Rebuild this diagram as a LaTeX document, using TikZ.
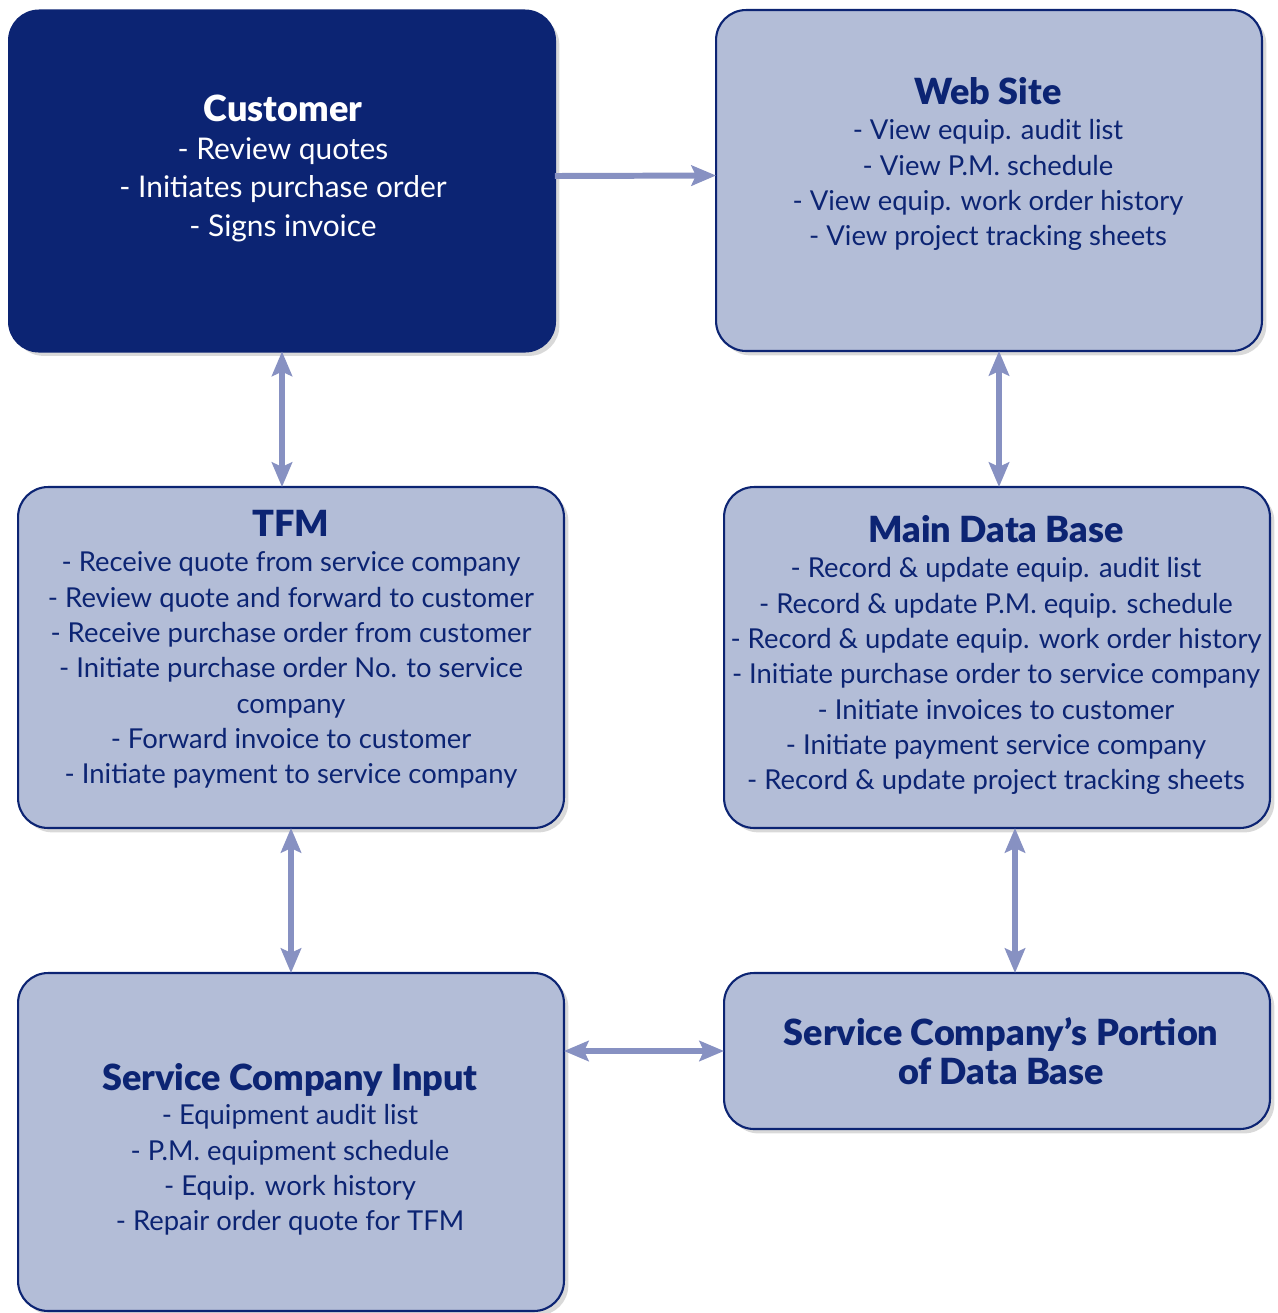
\documentclass[tikz,border=0pt]{standalone}
\usepackage{fontspec}
\setmainfont{Lato}
\newfontfamily\headfont{Lato Black}
\usetikzlibrary{arrows.meta}
\usetikzlibrary{shadows}
\usetikzlibrary{positioning}
\definecolor{navy}{HTML}{0C2473}
\definecolor{pale}{HTML}{B3BDD7}
\definecolor{linkblue}{HTML}{8791C2}

\begin{document}
\begin{tikzpicture}[x=0.02cm, y=-0.02cm,
    box/.style={draw=navy, line width=1.2pt, fill=pale, rounded corners=0.6cm,
      inner sep=0pt, outer sep=0pt, minimum width=10.92cm, minimum height=6.82cm,
      drop shadow={shadow xshift=2.5pt, shadow yshift=-2.5pt, opacity=0.3}},
    boxtext/.style={anchor=north, align=center, inner sep=0pt, text=navy,
      font=\fontsize{15.6}{20.1}\selectfont},
    head/.style={font=\headfont\fontsize{20.5}{22.2}\selectfont},
    link/.style={draw=linkblue, line width=3.4pt,
      {Stealth[length=14pt,width=11.5pt,inset=2.5pt]}-{Stealth[length=14pt,width=11.5pt,inset=2.5pt]}},
    onelink/.style={draw=linkblue, line width=3.4pt,
      -{Stealth[length=14pt,width=11.5pt,inset=2.5pt]}}]
      \useasboundingbox (0,0) rectangle (1278,1313);

      \node[box, fill=navy] (cust) at (282, 181) {};
      \node[box] (web) at (989, 180.5) {};
      \node[box] (tfm) at (291, 657.5) {};
      \node[box] (mdb) at (997, 657.5) {};
      \node[box, minimum height=6.76cm] (sci) at (291, 1142) {};
      \node[box, minimum height=3.12cm] (scp) at (997, 1051) {};

      \node[boxtext, text=white, font=\fontsize{17}{21.9}\selectfont] (cust-t) at (283, 95)
        {{\headfont\fontsize{20.5}{20}\selectfont Customer}\\[-0.5pt]
         - Review quotes\\
         - Initiates purchase order\\
         - Signs invoice};
      \node[boxtext] (web-t) at (988, 77)
        {{\headfont\fontsize{20.5}{20}\selectfont Web Site}\\[0pt]
         - View equip. audit list\\
         - View P.M. schedule\\
         - View equip. work order history\\
         - View project tracking sheets};
      \node[boxtext] (tfm-t) at (291, 510)
        {{\headfont\fontsize{20.5}{20}\selectfont TFM}\\[0pt]
         - Receive quote from service company\\
         - Review quote and forward to customer\\
         - Receive purchase order from customer\\
         - Initiate purchase order No. to service\\
         company\\
         - Forward invoice to customer\\
         - Initiate payment to service company};
      \node[boxtext] (mdb-t) at (996, 515)
        {{\headfont\fontsize{20.5}{20}\selectfont Main Data Base}\\[0pt]
         - Record \& update equip. audit list\\
         - Record \& update P.M. equip. schedule\\
         - Record \& update equip. work order history\\
         - Initiate purchase order to service company\\
         - Initiate invoices to customer\\
         - Initiate payment service company\\
         - Record \& update project tracking sheets};
      \node[boxtext, head] (scp-t) at (1001, 1017)
        {Service Company’s Portion\\
         of Data Base};
      \node[boxtext] (sci-t) at (290, 1063)
        {{\headfont\fontsize{20.5}{20}\selectfont Service Company Input}\\[-0.5pt]
         - Equipment audit list\\
         - P.M. equipment schedule\\
         - Equip. work history\\
         - Repair order quote for TFM};

      \draw[onelink] ([yshift=0.1cm]cust.east) -- ([yshift=0.1cm]web.west);
      \draw[link] (cust.south) -- (cust.south |- tfm.north);
      \draw[link] ([xshift=0.2cm]web.south) -- ([xshift=0.2cm]web.south |- mdb.north);
      \draw[link] (tfm.south) -- (sci.north);
      \draw[link] ([xshift=0.36cm]mdb.south) -- ([xshift=0.36cm]scp.north);
      \draw[link] (scp.west -| sci.east) -- (scp.west);
\end{tikzpicture}
\end{document}
